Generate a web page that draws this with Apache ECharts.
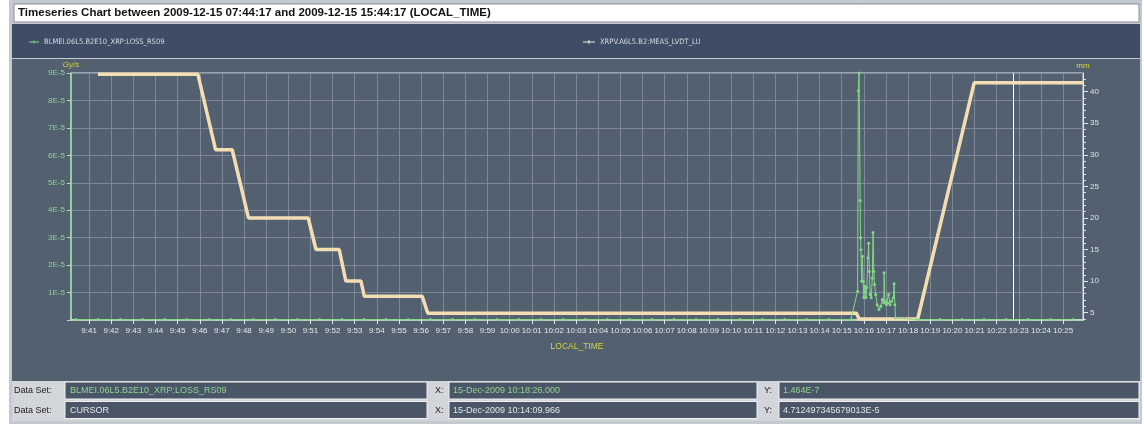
<!DOCTYPE html>
<html>
<head>
<meta charset="utf-8">
<title>Timeseries Chart</title>
<script src="https://cdn.jsdelivr.net/npm/echarts@6.0.0/dist/echarts.min.js"></script>
<style>
  html, body { margin: 0; padding: 0; background: #ffffff; }
  #chart { width: 1144px; height: 427px; }
</style>
</head>
<body>
<div id="chart"></div>
<script>
// series names
var lossName = 'BLMEI.06L5.B2E10_XRP:LOSS_RS09';
var lvdtName = 'XRPV.A6L5.B2:MEAS_LVDT_LU';

// BLM loss (Gy/s), left axis
var lossTimes = [
  '9:40:25', '9:41:25', '9:42:25', '9:43:25', '9:44:25', '9:45:25', '9:46:25', '9:47:25', '9:48:25',
  '9:49:25', '9:50:25', '9:51:25', '9:52:25', '9:53:25', '9:54:25', '9:55:25', '9:56:25', '9:57:25',
  '9:58:25', '9:59:25', '10:00:25', '10:01:25', '10:02:25', '10:03:25', '10:04:25', '10:05:25',
  '10:06:25', '10:07:25', '10:08:25', '10:09:25', '10:10:25', '10:11:25', '10:12:25', '10:13:25',
  '10:14:25', '10:15:25',
  '10:15:43', '10:15:45', '10:15:47', '10:15:50', '10:15:51', '10:15:52', '10:15:54', '10:15:56',
  '10:15:58', '10:16:00', '10:16:03', '10:16:06', '10:16:08', '10:16:11', '10:16:13', '10:16:15',
  '10:16:17', '10:16:20', '10:16:23', '10:16:25', '10:16:27', '10:16:29', '10:16:32', '10:16:36',
  '10:16:41', '10:16:46', '10:16:50', '10:16:54', '10:16:55', '10:16:57', '10:17:01', '10:17:05',
  '10:17:07', '10:17:11', '10:17:15', '10:17:20', '10:17:22', '10:17:24', '10:17:26',
  '10:18:26', '10:19:26', '10:20:26', '10:21:26', '10:22:26', '10:23:26', '10:24:26', '10:25:26'
];
var lossValues = [
  1.48e-7, 1.51e-7, 1.46e-7, 1.50e-7, 1.47e-7, 1.52e-7, 1.49e-7, 1.45e-7, 1.50e-7,
  1.48e-7, 1.53e-7, 1.47e-7, 1.49e-7, 1.51e-7, 1.46e-7, 1.50e-7, 1.48e-7, 1.47e-7,
  1.52e-7, 1.49e-7, 1.46e-7, 1.50e-7, 1.48e-7, 1.51e-7, 1.47e-7, 1.49e-7,
  1.50e-7, 1.46e-7, 1.48e-7, 1.52e-7, 1.47e-7, 1.49e-7, 1.51e-7, 1.48e-7,
  1.50e-7, 1.47e-7,
  1.05e-5, 8.35e-5, 9.0e-5, 4.35e-5, 3.0e-5, 2.56e-5, 1.41e-5, 2.32e-5,
  1.41e-5, 0.82e-5, 1.23e-5, 0.82e-5, 1.18e-5, 2.27e-5, 2.8e-5, 1.77e-5,
  0.93e-5, 0.81e-5, 1.53e-5, 3.19e-5, 1.77e-5, 1.29e-5, 0.93e-5, 0.56e-5,
  0.38e-5, 0.5e-5, 0.75e-5, 0.63e-5, 1.72e-5, 0.68e-5, 0.56e-5, 0.63e-5,
  0.93e-5, 0.56e-5, 0.68e-5, 0.81e-5, 1.32e-5, 0.56e-5, 0.08e-5,
  1.464e-7, 1.49e-7, 1.47e-7, 1.51e-7, 1.48e-7, 1.50e-7, 1.46e-7, 1.49e-7
];

// LVDT position (mm), right axis
var lvdtTimes = [
  '9:41:24', '9:45:55', '9:46:43', '9:47:28', '9:48:12', '9:50:54', '9:51:15', '9:52:18', '9:52:36',
  '9:53:17', '9:53:26', '9:56:03', '9:56:18', '10:15:40', '10:15:47', '10:18:26', '10:20:59', '10:25:54'
];
var lvdtValues = [
  42.75, 42.75, 30.8, 30.8, 20.0, 20.0, 15.0, 15.0, 10.0,
  10.0, 7.6, 7.6, 4.9, 4.9, 4.0, 4.0, 41.4, 41.4
];

// axis ranges and tick labels
var timeMin = '9:40:11';
var timeMax = '10:25:54';
var cursorTime = '10:22:44';
var mmMin = 3.84;
var mmMax = 42.96;
var mmLabels = [5, 10, 15, 20, 25, 30, 35, 40];
var mmMinorTicks = [4, 5, 6, 7, 8, 9, 10, 11, 12, 13, 14, 15, 16, 17, 18, 19, 20, 21, 22, 23,
  24, 25, 26, 27, 28, 29, 30, 31, 32, 33, 34, 35, 36, 37, 38, 39, 40, 41, 42];

// info panel texts
var titleText = 'Timeseries Chart between 2009-12-15 07:44:17 and 2009-12-15 15:44:17 (LOCAL_TIME)';
var infoRows = [
  { set: lossName, x: '15-Dec-2009 10:18:26.000', y: '1.464E-7', color: '#8fd48f' },
  { set: 'CURSOR', x: '15-Dec-2009 10:14:09.966', y: '4.712497345679013E-5', color: '#e4e6e8' }
];

function toTime(s) {
  var p = s.split(':');
  return new Date(2009, 11, 15, +p[0], +p[1], +p[2]).getTime();
}

function pairs(times, values) {
  var out = [];
  for (var i = 0; i < times.length; i++) {
    out.push([toTime(times[i]), values[i]]);
  }
  return out;
}

document.addEventListener('DOMContentLoaded', function () {
  var myChart = echarts.init(document.getElementById('chart'), null, { renderer: 'canvas' });

  var smallFont = 'Liberation Sans, Arial, sans-serif';
  var condFont = 'DejaVu Sans Condensed, DejaVu Sans, sans-serif';

  // frame, title box, legend strip and info rows
  var graphics = [
    { type: 'rect', z: -10, shape: { x: 9, y: 0, width: 1133, height: 424 }, style: { fill: '#c4c9cf' } },
    { type: 'rect', z: -9, shape: { x: 14, y: 4, width: 1125, height: 18 }, style: { fill: '#ffffff', stroke: '#8a8f96', lineWidth: 1 } },
    { type: 'text', z: 5, x: 18, y: 13, style: { text: titleText, fill: '#111111', font: 'bold 11.5px ' + smallFont, verticalAlign: 'middle' } },
    { type: 'rect', z: -9, shape: { x: 12, y: 24, width: 1128, height: 34 }, style: { fill: '#3e4c65' } },
    { type: 'rect', z: -9, shape: { x: 12, y: 59, width: 1128, height: 322 }, style: { fill: '#536070' } },
    { type: 'rect', z: -9, shape: { x: 12, y: 381, width: 1128, height: 40 }, style: { fill: '#d2d5d9' } }
  ];
  infoRows.forEach(function (row, i) {
    var top = 382 + i * 19.5;
    graphics.push(
      { type: 'text', x: 14, y: top + 9, style: { text: 'Data Set:', fill: '#1c1c1c', font: '9px ' + smallFont, verticalAlign: 'middle' } },
      { type: 'rect', shape: { x: 65, y: top, width: 362, height: 17 }, style: { fill: '#4a5667', stroke: '#eef0f2', lineWidth: 1 } },
      { type: 'text', x: 70, y: top + 9, style: { text: row.set, fill: row.color, font: '9px ' + smallFont, verticalAlign: 'middle' } },
      { type: 'text', x: 435, y: top + 9, style: { text: 'X:', fill: '#1c1c1c', font: '9px ' + smallFont, verticalAlign: 'middle' } },
      { type: 'rect', shape: { x: 449, y: top, width: 308, height: 17 }, style: { fill: '#4a5667', stroke: '#eef0f2', lineWidth: 1 } },
      { type: 'text', x: 453, y: top + 9, style: { text: row.x, fill: row.color, font: '9px ' + smallFont, verticalAlign: 'middle' } },
      { type: 'text', x: 764, y: top + 9, style: { text: 'Y:', fill: '#1c1c1c', font: '9px ' + smallFont, verticalAlign: 'middle' } },
      { type: 'rect', shape: { x: 779, y: top, width: 360, height: 17 }, style: { fill: '#4a5667', stroke: '#eef0f2', lineWidth: 1 } },
      { type: 'text', x: 783, y: top + 9, style: { text: row.y, fill: row.color, font: '9px ' + smallFont, verticalAlign: 'middle' } }
    );
  });

  var legendIcon = 'path://M0,4.5H12V5.5H0Z M5.5,3H6.5V7H5.5Z';
  var legendText = { color: '#d6dbe2', fontSize: 7.5, fontFamily: condFont };

  var option = {
    animation: false,
    backgroundColor: '#ffffff',
    graphic: graphics,
    grid: {
      left: 71,
      right: 61,
      top: 73,
      bottom: 107,
      show: true,
      borderColor: '#dfe7ea',
      borderWidth: 1,
      backgroundColor: 'transparent'
    },
    legend: [
      {
        data: [{ name: lossName, icon: legendIcon }],
        left: 24, top: 33,
        itemWidth: 10, itemHeight: 8, itemGap: 4,
        textStyle: legendText
      },
      {
        data: [{ name: lvdtName, icon: legendIcon, itemStyle: { color: '#eeeeee' } }],
        left: 578, top: 33,
        itemWidth: 12, itemHeight: 8, itemGap: 4,
        textStyle: legendText
      }
    ],
    xAxis: {
      type: 'time',
      min: toTime(timeMin),
      max: toTime(timeMax),
      minInterval: 60000,
      maxInterval: 60000,
      name: 'LOCAL_TIME',
      nameLocation: 'middle',
      nameGap: 22,
      nameTextStyle: { color: '#d6d63c', fontSize: 8.5, fontFamily: smallFont },
      axisLine: { lineStyle: { color: '#c6e8cc', width: 1.5 } },
      axisTick: { show: true, length: 4, inside: false, lineStyle: { color: '#dfe4e8' } },
      axisLabel: {
        color: '#e6e8ea', fontSize: 8, fontFamily: smallFont, margin: 7,
        interval: 0, hideOverlap: false,
        formatter: function (value) {
          var d = new Date(value);
          return d.getHours() + ':' + ('0' + d.getMinutes()).slice(-2);
        }
      },
      splitLine: { show: true, lineStyle: { color: '#7d8998', width: 1 } }
    },
    yAxis: [
      {
        type: 'value',
        position: 'left',
        min: 0,
        max: 9e-5,
        interval: 1e-5,
        name: 'Gy/s',
        nameLocation: 'end',
        nameGap: 2,
        nameTextStyle: { color: '#d6d63c', fontSize: 8, fontStyle: 'italic', fontFamily: smallFont },
        axisLine: { show: true, lineStyle: { color: '#9ee0a4', width: 1.5 } },
        axisTick: { show: true, length: 4, lineStyle: { color: '#c8d0d6' } },
        axisLabel: {
          color: '#8fd48f', fontSize: 8, fontFamily: smallFont, margin: 6,
          formatter: function (v) { return v === 0 ? '' : Math.round(v * 1e5) + 'E-5'; }
        },
        splitLine: { show: true, lineStyle: { color: '#7d8998', width: 1 } }
      },
      {
        type: 'value',
        position: 'right',
        min: mmMin,
        max: mmMax,
        name: 'mm',
        nameLocation: 'end',
        nameGap: 3,
        nameTextStyle: { color: '#d6d63c', fontSize: 8, fontFamily: smallFont },
        axisLine: { show: true, lineStyle: { color: '#dfe7ea', width: 1 } },
        axisTick: { show: true, length: 5, customValues: mmLabels, lineStyle: { color: '#dfe4e8' } },
        axisLabel: { color: '#dfe2e6', fontSize: 8, fontFamily: smallFont, margin: 7, customValues: mmLabels },
        splitLine: { show: false }
      },
      {
        type: 'value',
        position: 'right',
        min: mmMin,
        max: mmMax,
        axisLine: { show: false },
        axisTick: { show: true, length: 3, customValues: mmMinorTicks, lineStyle: { color: '#dfe4e8' } },
        axisLabel: { show: false },
        splitLine: { show: false }
      }
    ],
    series: [
      {
        name: lossName,
        type: 'line',
        yAxisIndex: 0,
        data: pairs(lossTimes, lossValues),
        symbol: 'circle',
        symbolSize: 3,
        showSymbol: true,
        color: '#84d884',
        lineStyle: { width: 1, color: '#84d884' },
        z: 3
      },
      {
        name: lvdtName,
        type: 'line',
        yAxisIndex: 1,
        data: pairs(lvdtTimes, lvdtValues),
        symbol: 'none',
        color: '#f3ddb2',
        lineStyle: { width: 3.5, color: '#f3ddb2' },
        z: 2,
        markLine: {
          silent: true,
          symbol: 'none',
          label: { show: false },
          lineStyle: { color: '#ffffff', width: 1, type: 'solid' },
          data: [{ xAxis: toTime(cursorTime) }]
        }
      }
    ]
  };

  myChart.setOption(option);
});
</script>
</body>
</html>
